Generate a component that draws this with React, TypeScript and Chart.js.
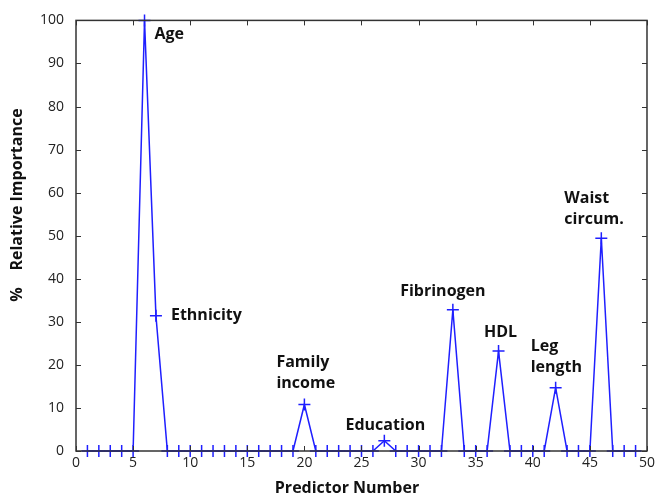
import React, { useEffect, useRef } from "react";
import { Chart, registerables } from "chart.js";

Chart.register(...registerables);

const predictors: number[] = Array.from({ length: 49 }, (_, i) => i + 1);
const importance: number[] = [
  0, 0, 0, 0, 0, 100, 31.4, 0, 0, 0,
  0, 0, 0, 0, 0, 0, 0, 0, 0, 10.8,
  0, 0, 0, 0, 0, 0, 2.4, 0, 0, 0,
  0, 0, 32.8, 0, 0, 0, 23.2, 0, 0, 0,
  0, 14.7, 0, 0, 0, 49.4, 0, 0, 0,
];
const labelPredictors: number[] = [6, 7, 20, 27, 33, 37, 42, 46];
const labelTexts: string[][] = [
  ["Age"],
  ["Ethnicity"],
  ["Family", "income"],
  ["Education"],
  ["Fibrinogen"],
  ["HDL"],
  ["Leg", "length"],
  ["Waist", "circum."],
];
// label placement styles (pixel offsets relative to the point, alignment)
const labelStyles = [
  { dx: 10, dy: 14, align: "left" },
  { dx: 15, dy: 0, align: "left" },
  { dx: -28, dy: -42, align: "left" },
  { dx: 1, dy: -15, align: "center" },
  { dx: -10, dy: -18, align: "center" },
  { dx: 2, dy: -19, align: "center" },
  { dx: -25, dy: -41, align: "left" },
  { dx: -37, dy: -40, align: "left" },
];
const xTitle = "Predictor Number";
const yTitle = "%    Relative Importance";

const FONT = "'Open Sans', sans-serif";
const BLUE = "#1f1fff";
const AXIS = "#333333";

const framePlugin = {
  id: "frame",
  afterDatasetsDraw(chart: any) {
    const { ctx, chartArea: a, scales } = chart;
    const xs = scales.x;
    const ys = scales.y;
    ctx.save();
    ctx.strokeStyle = AXIS;
    ctx.lineWidth = 1.5;
    ctx.strokeRect(a.left, a.top, a.right - a.left, a.bottom - a.top);
    const tl = 5;
    ctx.lineWidth = 1;
    ctx.beginPath();
    xs.ticks.forEach((t: any) => {
      const px = Math.round(xs.getPixelForValue(t.value)) + 0.5;
      ctx.moveTo(px, a.bottom);
      ctx.lineTo(px, a.bottom - tl);
      ctx.moveTo(px, a.top);
      ctx.lineTo(px, a.top + tl);
    });
    ys.ticks.forEach((t: any) => {
      const py = Math.round(ys.getPixelForValue(t.value)) + 0.5;
      ctx.moveTo(a.left, py);
      ctx.lineTo(a.left + tl, py);
      ctx.moveTo(a.right, py);
      ctx.lineTo(a.right - tl, py);
    });
    ctx.stroke();

    // annotations
    ctx.fillStyle = "#111111";
    ctx.font = `bold 16px ${FONT}`;
    ctx.textBaseline = "middle";
    labelPredictors.forEach((p, i) => {
      const v = importance[predictors.indexOf(p)];
      const px = xs.getPixelForValue(p);
      const py = ys.getPixelForValue(v);
      const st = labelStyles[i];
      ctx.textAlign = st.align;
      labelTexts[i].forEach((line, j) => {
        ctx.fillText(line, px + st.dx, py + st.dy + j * 21);
      });
    });

    // axis titles
    ctx.textAlign = "center";
    ctx.fillText(xTitle, 347, 488);
    ctx.save();
    ctx.translate(17, 205);
    ctx.rotate(-Math.PI / 2);
    ctx.fillText(yTitle, 0, 0);
    ctx.restore();
    ctx.restore();
  },
};

export default function App() {
  const ref = useRef<HTMLCanvasElement | null>(null);
  useEffect(() => {
    if (!ref.current) return;
    const chart = new Chart(ref.current, {
      type: "line",
      data: {
        datasets: [
          {
            data: predictors.map((p, i) => ({ x: p, y: importance[i] })),
            borderColor: BLUE,
            backgroundColor: BLUE,
            borderWidth: 1.5,
            pointStyle: "cross",
            pointRadius: 6,
            pointBorderWidth: 1.5,
            pointBorderColor: BLUE,
            tension: 0,
            clip: false as any,
          },
        ],
      },
      options: {
        responsive: false,
        animation: false,
        layout: { padding: { top: 15, right: 9, left: 0, bottom: 0 } },
        plugins: { legend: { display: false }, tooltip: { enabled: false } },
        scales: {
          x: {
            type: "linear",
            min: 0,
            max: 50,
            ticks: {
              stepSize: 5,
              color: "#222222",
              font: { family: FONT, size: 14 },
              padding: 4,
              maxRotation: 0,
            },
            grid: { display: false, drawTicks: false },
            border: { display: false },
            afterFit: (s: any) => {
              s.height = 48;
            },
          },
          y: {
            min: 0,
            max: 100,
            ticks: {
              stepSize: 10,
              color: "#222222",
              font: { family: FONT, size: 14 },
              padding: 12,
            },
            grid: { display: false, drawTicks: false },
            border: { display: false },
            afterFit: (s: any) => {
              s.width = 76;
            },
          },
        },
      },
      plugins: [framePlugin],
    });
    return () => chart.destroy();
  }, []);
  return (
    <div style={{ position: "fixed", left: 0, top: 0, width: 659, height: 499, background: "#fff" }}>
      <canvas ref={ref} width={659} height={499} />
    </div>
  );
}
